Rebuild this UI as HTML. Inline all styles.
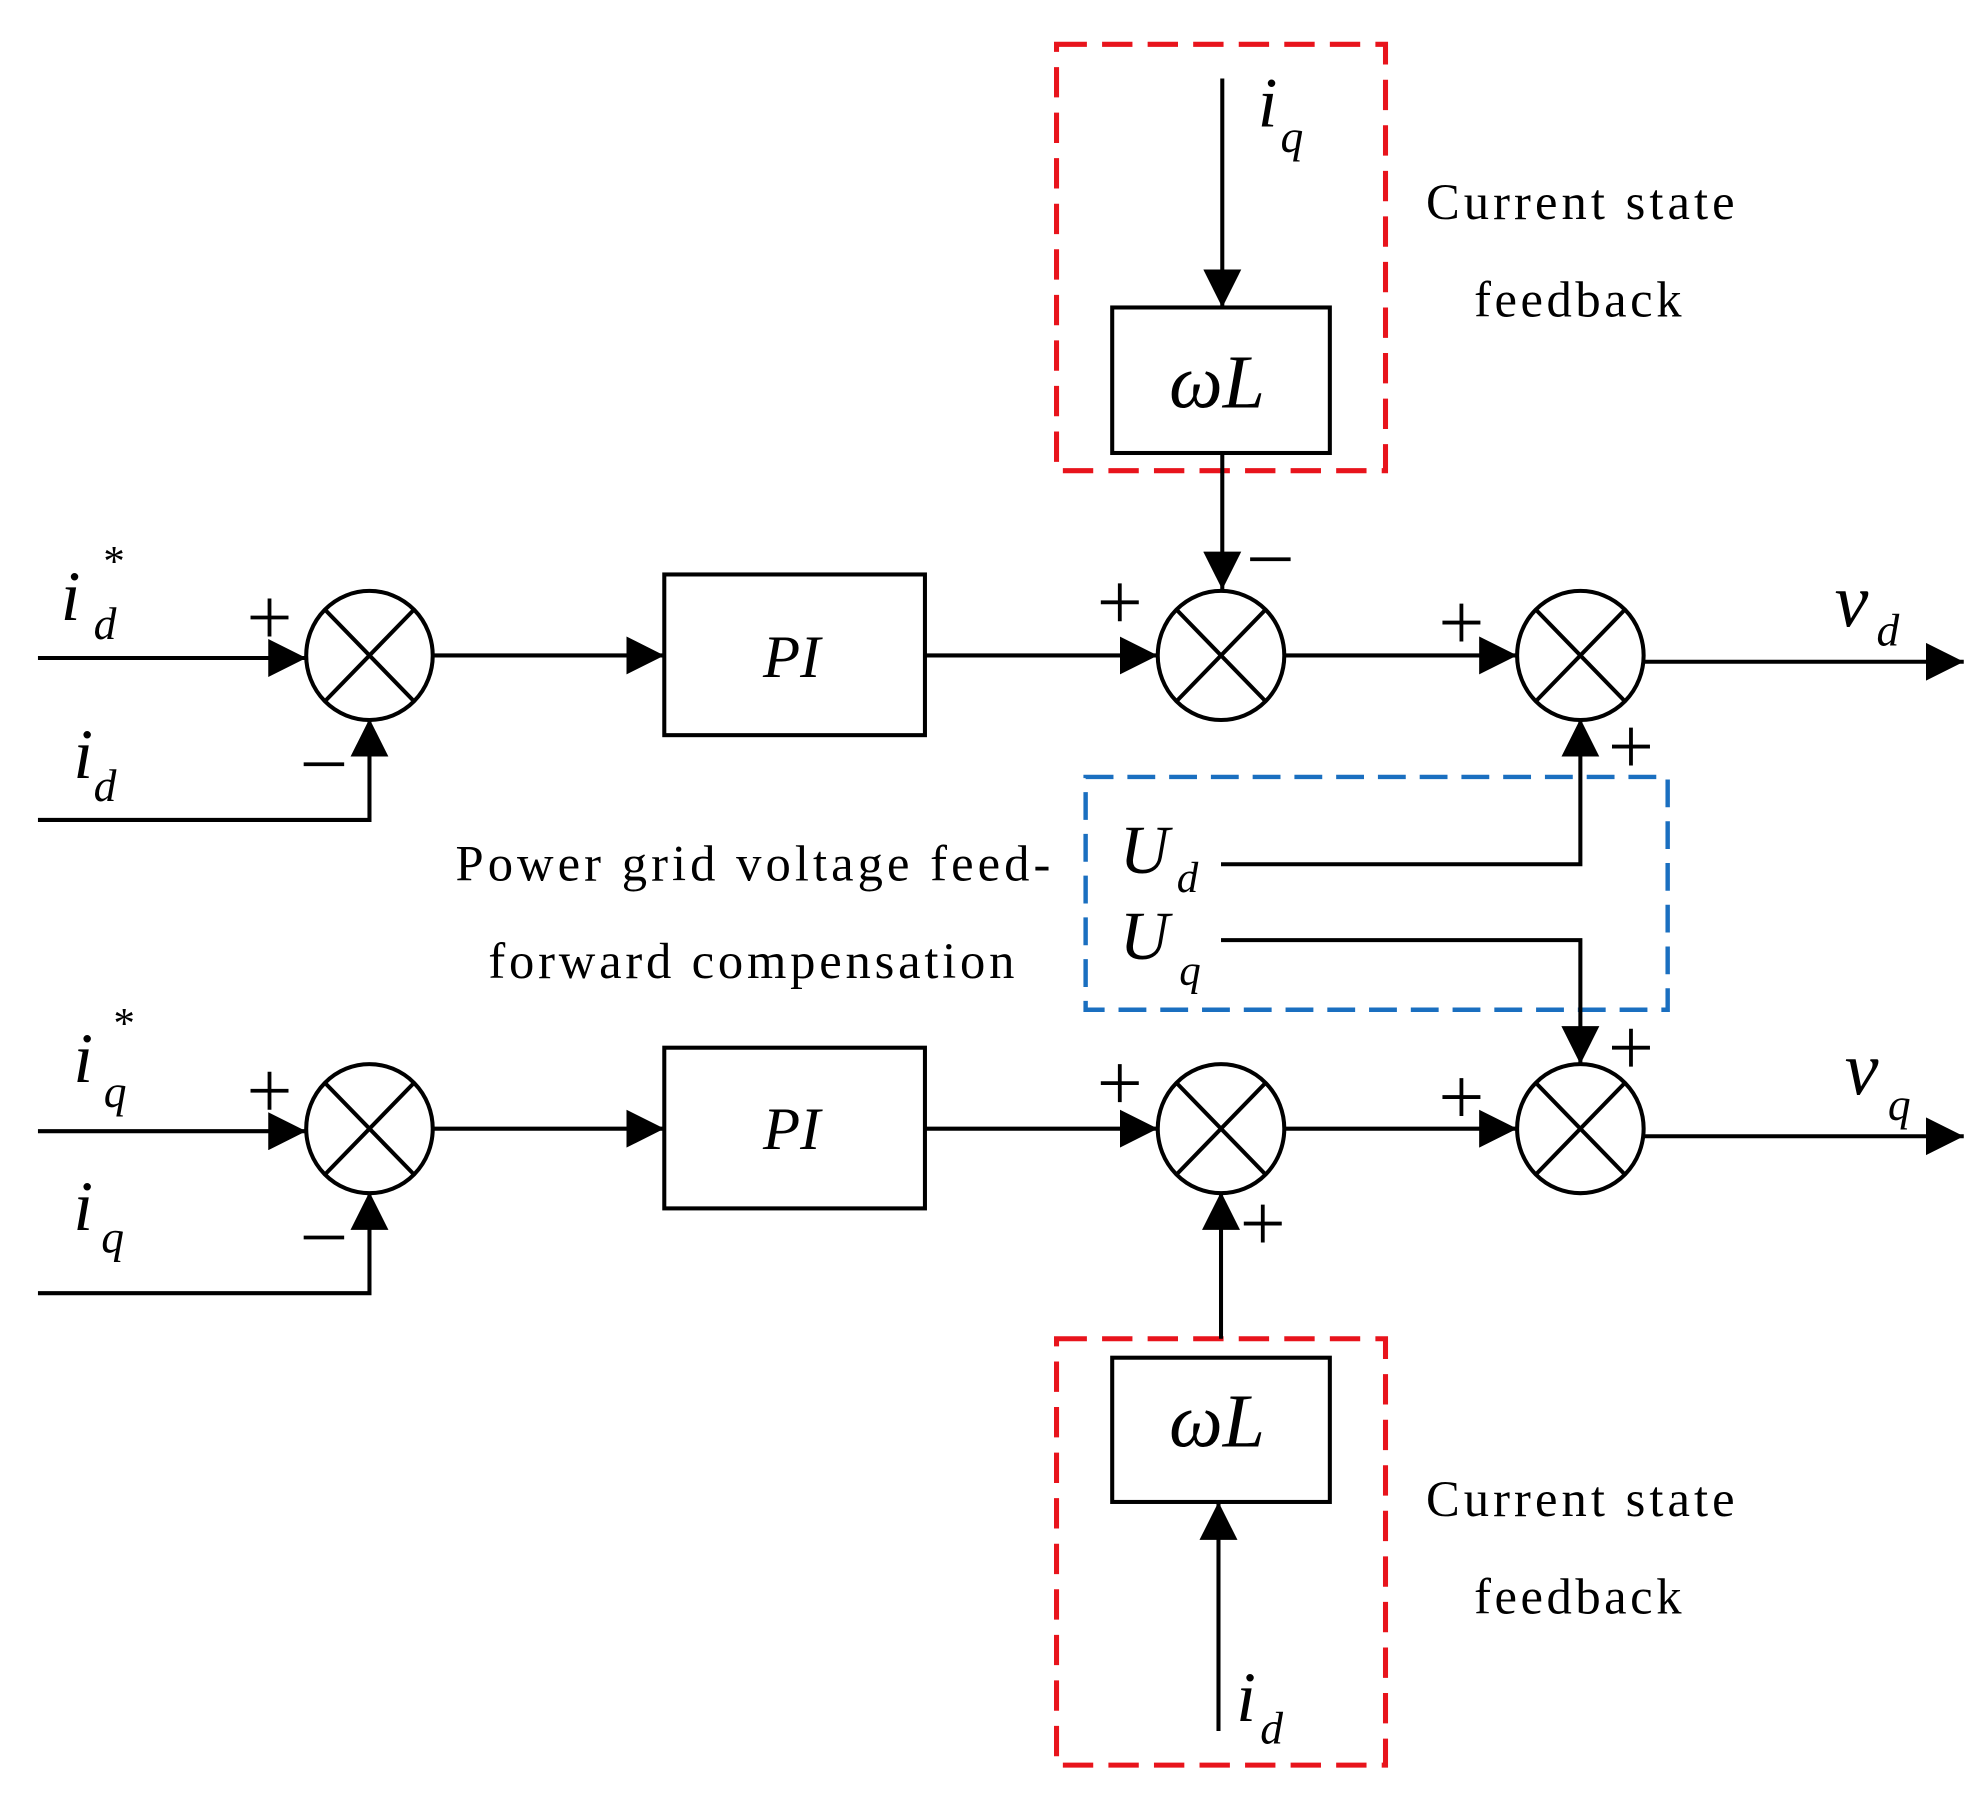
<!DOCTYPE html>
<html><head><meta charset="utf-8"><style>
html,body{margin:0;padding:0;background:#fff;}
svg{display:block;}
text{font-family:"Liberation Serif",serif;fill:#000;}
.it{font-style:italic;}
</style></head><body>
<svg width="1984" height="1805" viewBox="0 0 1568 1426.5" preserveAspectRatio="none" xmlns="http://www.w3.org/2000/svg">
<defs>
<marker id="a" viewBox="0 0 10 10" refX="10" refY="5" markerWidth="30" markerHeight="30" markerUnits="userSpaceOnUse" orient="auto">
<path d="M0,0 L10,5 L0,10 z" fill="#000"/></marker>
</defs>
<g stroke="#000" stroke-width="3.2" fill="none">
<rect x="835" y="35" width="260" height="337" stroke="#e8141c" stroke-width="4" stroke-dasharray="24,12"/>
<rect x="835" y="1058" width="260" height="337" stroke="#e8141c" stroke-width="4" stroke-dasharray="24,12"/>
<rect x="858" y="614" width="460" height="184" stroke="#1a6fc0" stroke-width="3.5" stroke-dasharray="22,11"/>
<rect x="879" y="243" width="172" height="115"/>
<rect x="879" y="1073" width="172" height="114"/>
<rect x="525" y="454" width="206" height="127"/>
<rect x="525" y="828" width="206" height="127"/>
<g>
<ellipse cx="292" cy="518" rx="50" ry="51"/><ellipse cx="965" cy="518" rx="50" ry="51"/><ellipse cx="1249" cy="518" rx="50" ry="51"/>
<ellipse cx="292" cy="892" rx="50" ry="51"/><ellipse cx="965" cy="892" rx="50" ry="51"/><ellipse cx="1249" cy="892" rx="50" ry="51"/>
</g>
<path d="M257,482 L327,554 M327,482 L257,554 M930,482 L1000,554 M1000,482 L930,554 M1214,482 L1284,554 M1284,482 L1214,554
M257,856 L327,928 M327,856 L257,928 M930,856 L1000,928 M1000,856 L930,928 M1214,856 L1284,928 M1284,856 L1214,928"/>
<path d="M966,62 L966,243" marker-end="url(#a)"/>
<path d="M966,358 L966,466" marker-end="url(#a)"/>
<path d="M30,520 L242,520" marker-end="url(#a)"/>
<path d="M30,648 L292,648 L292,568" marker-end="url(#a)"/>
<path d="M342,518 L525,518" marker-end="url(#a)"/>
<path d="M731,518 L915,518" marker-end="url(#a)"/>
<path d="M1015,518 L1199,518" marker-end="url(#a)"/>
<path d="M1299,523 L1552,523" marker-end="url(#a)"/>
<path d="M965,683 L1249,683 L1249,568" marker-end="url(#a)"/>
<path d="M965,743 L1249,743 L1249,841" marker-end="url(#a)"/>
<path d="M30,894 L242,894" marker-end="url(#a)"/>
<path d="M30,1022 L292,1022 L292,942" marker-end="url(#a)"/>
<path d="M342,892 L525,892" marker-end="url(#a)"/>
<path d="M731,892 L915,892" marker-end="url(#a)"/>
<path d="M1015,892 L1199,892" marker-end="url(#a)"/>
<path d="M1299,898 L1552,898" marker-end="url(#a)"/>
<path d="M965,1058 L965,942" marker-end="url(#a)"/>
<path d="M963,1368 L963,1187" marker-end="url(#a)"/>
<!-- signs -->
<g stroke-width="3">
<path d="M198,488 h30 M213,473 v30"/>
<path d="M240,604 h32"/>
<path d="M870,476 h30 M885,461 v30"/>
<path d="M988,442 h32"/>
<path d="M1140,492 h30 M1155,477 v30"/>
<path d="M1274,590 h30 M1289,575 v30"/>
<path d="M198,862 h30 M213,847 v30"/>
<path d="M240,978 h32"/>
<path d="M870,856 h30 M885,841 v30"/>
<path d="M983,967 h30 M998,952 v30"/>
<path d="M1140,867 h30 M1155,852 v30"/>
<path d="M1274,828 h30 M1289,813 v30"/>
</g>
</g>
<g class="it">
<text x="48" y="490" font-size="56" class="it">i</text><text x="74" y="505" font-size="36" class="it">d</text><text x="80" y="455" font-size="34">*</text>
<text x="58" y="615" font-size="56" class="it">i</text><text x="74" y="633" font-size="36" class="it">d</text>
<text x="58" y="855" font-size="56" class="it">i</text><text x="82" y="875" font-size="36" class="it">q</text><text x="88" y="820" font-size="34">*</text>
<text x="58" y="972" font-size="56" class="it">i</text><text x="80" y="990" font-size="36" class="it">q</text>
<text x="994" y="100" font-size="56" class="it">i</text><text x="1012" y="120" font-size="36" class="it">q</text>
<text x="977" y="1360" font-size="56" class="it">i</text><text x="996" y="1378" font-size="36" class="it">d</text>
<text x="924" y="322" font-size="60" class="it">ωL</text>
<text x="924" y="1143" font-size="60" class="it">ωL</text>
<text x="603" y="535" font-size="48" class="it">PI</text>
<text x="603" y="908" font-size="48" class="it">PI</text>
<text x="885" y="690" font-size="54" class="it">U</text><text x="930" y="705" font-size="34" class="it">d</text>
<text x="885" y="758" font-size="54" class="it">U</text><text x="932" y="778" font-size="34" class="it">q</text>
<text x="1450" y="495" font-size="60" class="it">v</text><text x="1483" y="510" font-size="36" class="it">d</text>
<text x="1458" y="865" font-size="60" class="it">v</text><text x="1492" y="885" font-size="36" class="it">q</text>
</g>
<g font-size="40">
<text x="1127" y="173" letter-spacing="3.2">Current state</text>
<text x="1165" y="250" letter-spacing="2.8">feedback</text>
<text x="1127" y="1198" letter-spacing="3.2">Current state</text>
<text x="1165" y="1275" letter-spacing="2.8">feedback</text>
<text x="360" y="696" letter-spacing="3.2">Power grid voltage feed-</text>
<text x="386" y="773" letter-spacing="3">forward compensation</text>
</g>
</svg>
</body></html>
